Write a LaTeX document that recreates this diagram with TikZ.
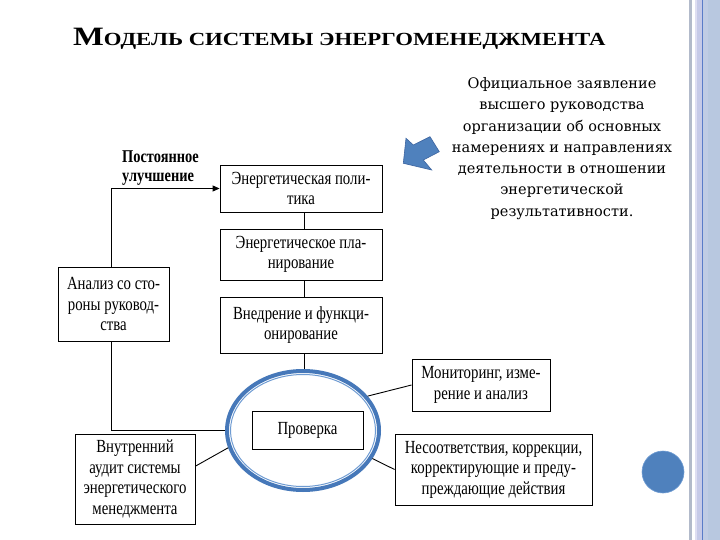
\documentclass[tikz,border=0pt]{standalone}
\usepackage{fontspec}
\setmainfont{Liberation Serif}
\newfontfamily\dfont[FakeStretch=0.8]{Liberation Serif}
\newfontfamily\tfont[FakeStretch=1.23]{Liberation Serif}
\newfontfamily\rfont{DejaVu Serif}
\usetikzlibrary{shapes.geometric,arrows.meta}
\definecolor{sblue}{RGB}{79,129,189}
\definecolor{sbluedark}{RGB}{60,100,160}
\definecolor{ellblue}{RGB}{70,120,185}
\definecolor{ellin}{RGB}{110,155,210}
\definecolor{bgray}{RGB}{178,186,202}
\definecolor{blav1}{RGB}{222,222,242}
\definecolor{blav2}{RGB}{198,202,232}
\definecolor{bline}{RGB}{90,124,200}
\definecolor{bblue1}{RGB}{192,204,228}
\definecolor{bblue2}{RGB}{184,200,224}
\tikzset{
  box/.style={draw=black, line width=0.9pt, inner sep=0pt, align=center,
    font=\dfont\fontsize{18.5}{20.5}\selectfont},
  conn/.style={draw=black, line width=0.9pt},
  ell/.style={ellipse, draw=ellblue, line width=4pt, inner sep=0pt,
    minimum width=152pt, minimum height=119pt}
}
\begin{document}
\begin{tikzpicture}[x=1pt,y=-1pt]
\useasboundingbox (0,0) rectangle (720,540);
\fill[white] (0,0) rectangle (720,540);
% right border
\fill[bgray] (689,0) rectangle (692,540);
\fill[blav1] (695,0) rectangle (697,540);
\fill[blav2] (697,0) rectangle (701.5,540);
\fill[bline] (701.5,0) rectangle (703,540);
\fill[bblue1] (703,0) rectangle (708,540);
\fill[bblue2] (708,0) rectangle (720,540);
% title
\node[anchor=base west, inner sep=0pt, font=\tfont\bfseries] (title) at (73,46)
  {\fontsize{26.5}{28}\selectfont М\fontsize{18.5}{20}\selectfont ОДЕЛЬ СИСТЕМЫ ЭНЕРГОМЕНЕДЖМЕНТА};
% right text
\node[align=center, inner sep=0pt, font=\rfont\fontsize{14.5}{21.3}\selectfont] (stmt) at (562,148.5)
  {Официальное заявление\\высшего руководства\\организации об основных\\намерениях и направлениях\\деятельности в отношении\\энергетической\\результативности.};
% blue block arrow
\filldraw[fill=sblue, draw=sbluedark, line width=0.6pt]
  (403.3,163.3) -- (406,138.3) -- (413.3,145) -- (430,136.7) -- (439.3,151.7)
  -- (423.3,160) -- (431.7,170) -- cycle;
% blue circle
\filldraw[fill=sblue, draw=ellin, line width=0.6pt] (663,472) circle[radius=21];
% diagram
\coordinate (lx) at (111,0);
\coordinate (cx) at (304,0);
\node[box, minimum width=162pt, minimum height=47pt] (pol) at (301,188.5) {Энергетическая поли-\\тика};
\node[box, minimum width=162pt, minimum height=51pt] (plan) at (301,254.5) {Энергетическое пла-\\нирование};
\node[box, minimum width=162pt, minimum height=56pt] (impl) at (301,325) {Внедрение и функци-\\онирование};
\node[box, minimum width=111pt, minimum height=74pt] (ana) at (113.5,304) {Анализ со сто-\\роны руковод-\\ства};
\node[ell] (ellp) at (303,430.5) {};
\draw[ellin, line width=1pt] (ellp.center) ellipse [x radius=72.5, y radius=56];
\node[box, minimum width=111pt, minimum height=38pt] (prov) at (307.5,430) {Проверка};
\node[box, minimum width=120pt, minimum height=90pt] (aud) at (135,479) {Внутренний\\аудит системы\\энергетического\\менеджмента};
\node[box, minimum width=138pt, minimum height=52pt] (mon) at (481,385) {Мониторинг, изме-\\рение и анализ};
\node[box, minimum width=197pt, minimum height=71pt] (nc) at (493.5,469.5) {Несоответствия, коррекции,\\корректирующие и преду-\\преждающие действия};
\node[anchor=base west, inner sep=0pt, align=left, font=\dfont\bfseries\fontsize{18}{19}\selectfont] (imp) at (122,182)
  {Постоянное\\улучшение};
% connectors
\draw[conn, -{Triangle[length=7pt,width=6pt]}] (ana.north -| lx) |- (pol.west);
\draw[conn] (ana.south -| lx) |- (ellp.west);
\draw[conn] (pol.south -| cx) -- (plan.north -| cx);
\draw[conn] (plan.south -| cx) -- (impl.north -| cx);
\draw[conn] (impl.south -| cx) -- (ellp.north -| cx);
\draw[conn] (ellp.28) -- (mon.west);
\draw[conn] (ellp.-22) -- (nc.west);
\draw[conn] (aud.12) -- (ellp.193);
\end{tikzpicture}
\end{document}
